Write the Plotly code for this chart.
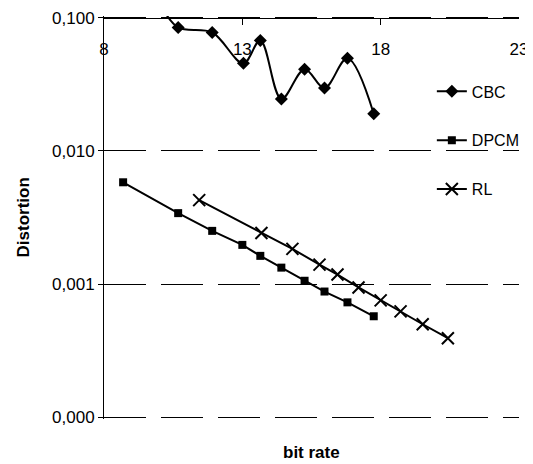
import plotly.graph_objects as go
import math

# ---- data ----
cbc_x = [10.0, 10.68, 11.91, 13.04, 13.65, 14.41, 15.25, 15.97, 16.80, 17.75]
cbc_y = [0.13, 0.0843, 0.0773, 0.0454, 0.0674, 0.0245, 0.0410, 0.0296, 0.0495, 0.0190]

dpcm_x = [8.69, 10.68, 11.91, 13.00, 13.65, 14.41, 15.25, 15.97, 16.80, 17.75]
dpcm_y = [0.00581, 0.00341, 0.00251, 0.00197, 0.00163, 0.00133, 0.00106, 0.00088, 0.00073, 0.000574]

rl_x = [11.44, 13.69, 14.81, 15.79, 16.44, 17.20, 18.00, 18.72, 19.52, 20.43]
rl_y = [0.00427, 0.00242, 0.00184, 0.00140, 0.00118, 0.000944, 0.000755, 0.000625, 0.000500, 0.000393]

x_ticks = [8, 13, 18, 23]
x_ticktext = ["8", "13", "18", "23"]
y_ticks = [0.0001, 0.001, 0.01, 0.1]
y_ticktext = ["0,000", "0,001", "0,010", "0,100"]

FONT = "Liberation Sans, Arial, sans-serif"

# y range padded a hair so the end gridlines are drawn
y_lo, y_hi = -4.012, -0.988
x_axis_pos = (math.log10(max(y_ticks)) - y_lo) / (y_hi - y_lo)

fig = go.Figure()
fig.add_trace(go.Scatter(
    x=cbc_x, y=cbc_y, name="CBC", mode="lines+markers",
    line=dict(color="black", width=2, shape="spline", smoothing=1.0),
    marker=dict(symbol="diamond", size=10, color="black"),
    legendgroup="a",
))
fig.add_trace(go.Scatter(
    x=dpcm_x, y=dpcm_y, name="DPCM", mode="lines+markers",
    line=dict(color="black", width=2),
    marker=dict(symbol="square", size=8, color="black"),
    legendgroup="b",
))
fig.add_trace(go.Scatter(
    x=rl_x, y=rl_y, name="RL", mode="lines+markers",
    line=dict(color="black", width=2),
    marker=dict(symbol="x-thin", size=12, color="black",
                line=dict(color="black", width=2)),
    legendgroup="c",
))

# page body has an 8px default margin, so the figure is drawn 8px smaller
fig.update_layout(
    width=525, height=456,
    margin=dict(l=96, r=14, t=8, b=45, autoexpand=False),
    paper_bgcolor="white", plot_bgcolor="white",
    font=dict(family=FONT, size=17, color="black"),
    showlegend=True,
    legend=dict(x=0.790, y=0.855, xanchor="left", yanchor="top",
                traceorder="grouped", tracegroupgap=25,
                font=dict(size=16), bgcolor="rgba(0,0,0,0)"),
    xaxis=dict(
        range=[7.999, 23.001], side="top", anchor="free", position=x_axis_pos,
        tickvals=x_ticks, ticktext=x_ticktext,
        ticks="inside", ticklen=6, tickcolor="black",
        ticklabelstandoff=-44, automargin=False,
        showline=True, linecolor="black",
        linewidth=1, showgrid=False, zeroline=False,
        tickfont=dict(size=17),
    ),
    yaxis=dict(
        type="log", range=[y_lo, y_hi], tickvals=y_ticks, ticktext=y_ticktext,
        ticks="outside", ticklen=5, tickcolor="black", automargin=False,
        showline=True, linecolor="black", linewidth=1,
        showgrid=True, gridcolor="black", gridwidth=1, griddash="42px,15px",
        zeroline=False, tickfont=dict(size=17),
    ),
    annotations=[
        dict(text="<b>bit rate</b>", xref="paper", yref="paper",
             x=0.501, y=-0.082, xanchor="center", yanchor="middle",
             showarrow=False, font=dict(size=17)),
        dict(text="<b>Distortion</b>", xref="paper", yref="paper",
             x=-0.193, y=0.5, xanchor="center", yanchor="middle",
             textangle=-90, showarrow=False, font=dict(size=17)),
    ],
)

fig.write_html("out.html")
